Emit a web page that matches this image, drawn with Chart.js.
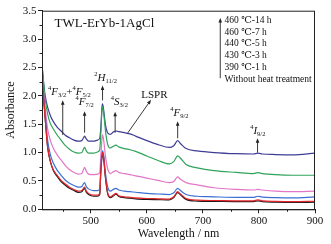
<!DOCTYPE html>
<html>
<head>
<meta charset="utf-8">
<script src="https://cdn.jsdelivr.net/npm/chart.js@4.4.1/dist/chart.umd.min.js"></script>
<style>
  html, body { margin: 0; padding: 0; background: #fff; }
  #wrap { width: 331px; height: 244px; }
</style>
</head>
<body>
<div id="wrap"><canvas id="chart" width="331" height="244"></canvas></div>
<script>
// Wavelengths (nm) shared by all spectra
const wavelengths = [413,418,423,428,433,440,447,454,462,470,478,484,487,489,492,496,505,512,516,518,
  520,521,523,526,530,535,540,545,550,560,570,580,600,620,640,648,655,660,670,690,720,760,790,798,806,830,860,900];

// Absorbance, one array per heat treatment
const noHeat = [2.30,1.68,1.10,0.84,0.69,0.58,0.49,0.43,0.37,0.33,0.30,0.31,0.35,0.37,0.30,0.26,0.23,0.23,0.26,0.67,
  0.92,0.97,0.89,0.57,0.28,0.205,0.235,0.265,0.225,0.205,0.195,0.185,0.175,0.17,0.165,0.205,0.295,0.255,0.175,0.145,0.14,0.135,0.135,0.15,0.135,0.125,0.12,0.125];
const t390_1h = [2.35,1.70,1.10,0.84,0.70,0.60,0.51,0.45,0.39,0.35,0.32,0.33,0.37,0.39,0.32,0.28,0.25,0.25,0.28,0.70,
  0.95,1.00,0.92,0.60,0.30,0.22,0.25,0.28,0.24,0.22,0.21,0.20,0.19,0.185,0.18,0.22,0.31,0.27,0.19,0.16,0.155,0.15,0.15,0.165,0.15,0.14,0.135,0.14];
const t430_3h = [2.38,1.75,1.22,0.96,0.82,0.69,0.60,0.52,0.46,0.42,0.39,0.40,0.45,0.47,0.40,0.36,0.33,0.33,0.36,0.75,
  0.98,1.03,0.95,0.65,0.40,0.32,0.35,0.37,0.34,0.32,0.31,0.30,0.28,0.27,0.26,0.29,0.37,0.33,0.26,0.23,0.22,0.21,0.21,0.23,0.215,0.205,0.20,0.22];
const t440_5h = [2.42,1.85,1.42,1.21,1.08,0.96,0.87,0.78,0.70,0.65,0.62,0.63,0.70,0.74,0.67,0.62,0.61,0.62,0.65,0.95,
  1.25,1.31,1.22,0.95,0.72,0.63,0.66,0.68,0.65,0.63,0.61,0.59,0.55,0.51,0.47,0.49,0.57,0.53,0.47,0.43,0.38,0.35,0.34,0.35,0.34,0.32,0.31,0.32];
const t460_7h = [2.57,2.00,1.68,1.51,1.42,1.31,1.22,1.13,1.06,1.01,0.99,1.00,1.06,1.09,1.03,0.99,0.99,1.01,1.05,1.35,
  1.75,1.81,1.70,1.40,1.15,1.08,1.11,1.13,1.10,1.07,1.05,1.02,0.94,0.86,0.80,0.84,0.94,0.90,0.79,0.73,0.68,0.65,0.63,0.645,0.63,0.61,0.60,0.60];
const t460_14h = [2.52,2.05,1.80,1.65,1.55,1.45,1.38,1.31,1.26,1.22,1.20,1.21,1.26,1.29,1.24,1.20,1.20,1.22,1.25,1.45,
  1.80,1.86,1.75,1.50,1.35,1.32,1.36,1.38,1.37,1.35,1.33,1.29,1.21,1.14,1.09,1.12,1.21,1.16,1.07,1.03,1.00,0.98,0.975,0.99,0.975,0.965,0.96,0.99];

const seriesNames = ['Without heat treatment', '390 ℃-1 h', '430 ℃-3 h', '440 ℃-5 h', '460 ℃-7 h', '460 ℃-14 h'];
const seriesValues = [noHeat, t390_1h, t430_3h, t440_5h, t460_7h, t460_14h];
const seriesColors = ['#1a1a1a', '#e3262b', '#3b6fd4', '#e276c6', '#2fa35a', '#3f3d96'];

// Axis ticks
const xTicks = [500, 600, 700, 800, 900];
const xMinor = [450, 550, 650, 750, 850];
const yTicks = [0, 0.5, 1.0, 1.5, 2.0, 2.5, 3.0, 3.5];
const yMinor = [0.25, 0.75, 1.25, 1.75, 2.25, 2.75, 3.25];

const serif = "'Liberation Serif', 'DejaVu Serif', serif";

// draw a spectroscopic term like 4F3/2 made of parts
function drawParts(ctx, parts, cx, cy) {
  const fonts = {
    sup: '6.5px ' + serif,
    sub: '6.5px ' + serif,
    it: 'italic 11px ' + serif,
    rm: '11px ' + serif
  };
  const dy = { sup: -4, sub: 3, it: 0, rm: 0 };
  let w = 0;
  parts.forEach(p => { ctx.font = fonts[p.k]; w += ctx.measureText(p.t).width; });
  let x = cx - w / 2;
  ctx.textBaseline = 'middle';
  ctx.textAlign = 'left';
  parts.forEach(p => {
    ctx.font = fonts[p.k];
    ctx.fillText(p.t, x, cy + dy[p.k]);
    x += ctx.measureText(p.t).width;
  });
}

function drawArrow(ctx, x1, y1, x2, y2) {
  const a = Math.atan2(y2 - y1, x2 - x1);
  const len = 4.5, half = 1.8;
  ctx.beginPath();
  ctx.moveTo(x1, y1);
  ctx.lineTo(x2 - Math.cos(a) * len * 0.6, y2 - Math.sin(a) * len * 0.6);
  ctx.stroke();
  ctx.beginPath();
  ctx.moveTo(x2, y2);
  ctx.lineTo(x2 - Math.cos(a) * len - Math.sin(a) * half, y2 - Math.sin(a) * len + Math.cos(a) * half);
  ctx.lineTo(x2 - Math.cos(a) * len + Math.sin(a) * half, y2 - Math.sin(a) * len - Math.cos(a) * half);
  ctx.closePath();
  ctx.fill();
}

// arrows [x1, y1, x2, y2] in data units
const arrows = [
  [450, 1.31, 450, 1.92],
  [489, 1.35, 489, 1.73],
  [521, 1.92, 521, 2.18],
  [543.5, 1.35, 543.5, 1.72],
  [565.6, 1.34, 607.5, 1.93],
  [655, 1.25, 655, 1.55],
  [797.5, 1.00, 797.5, 1.25],
  [731, 2.31, 731, 3.37]
];

const labels = [
  { at: [462, 2.06], parts: [{t:'4',k:'sup'},{t:'F',k:'it'},{t:'3/2',k:'sub'},{t:'+',k:'rm'},{t:'4',k:'sup'},{t:'F',k:'it'},{t:'5/2',k:'sub'}] },
  { at: [489, 1.89], parts: [{t:'4',k:'sup'},{t:'F',k:'it'},{t:'7/2',k:'sub'}] },
  { at: [526.5, 2.31], parts: [{t:'2',k:'sup'},{t:'H',k:'it'},{t:'11/2',k:'sub'}] },
  { at: [551, 1.89], parts: [{t:'4',k:'sup'},{t:'S',k:'it'},{t:'3/2',k:'sub'}] },
  { at: [613.4, 2.02], parts: [{t:'LSPR',k:'rm'}] },
  { at: [658, 1.70], parts: [{t:'4',k:'sup'},{t:'F',k:'it'},{t:'9/2',k:'sub'}] },
  { at: [798, 1.38], parts: [{t:'4',k:'sup'},{t:'I',k:'it'},{t:'9/2',k:'sub'}] }
];

const decorations = {
  id: 'decorations',
  afterDraw(chart) {
    const { ctx, chartArea: a, scales: { x, y } } = chart;
    ctx.save();
    ctx.strokeStyle = '#222';
    ctx.fillStyle = '#222';
    ctx.lineWidth = 1;
    ctx.strokeRect(a.left + 0.5, a.top + 0.5, a.right - a.left - 1, a.bottom - a.top);

    // minor ticks, pointing outward
    ctx.beginPath();
    xMinor.forEach(v => {
      const px = Math.round(x.getPixelForValue(v)) + 0.5;
      ctx.moveTo(px, a.bottom); ctx.lineTo(px, a.bottom + 2.5);
    });
    yMinor.forEach(v => {
      const py = Math.round(y.getPixelForValue(v)) + 0.5;
      ctx.moveTo(a.left, py); ctx.lineTo(a.left - 2.5, py);
    });
    ctx.stroke();

    // arrows
    ctx.lineWidth = 0.9;
    arrows.forEach(r => drawArrow(ctx, x.getPixelForValue(r[0]), y.getPixelForValue(r[1]),
      x.getPixelForValue(r[2]), y.getPixelForValue(r[3])));

    // transition labels
    ctx.fillStyle = '#111';
    labels.forEach(l => drawParts(ctx, l.parts, x.getPixelForValue(l.at[0]), y.getPixelForValue(l.at[1])));

    // sample name
    ctx.font = '13px ' + serif;
    ctx.textAlign = 'left';
    ctx.textBaseline = 'middle';
    ctx.fillText('TWL-ErYb-1AgCl', x.getPixelForValue(435.5), y.getPixelForValue(3.28));

    // series list beside the vertical arrow, top entry first
    ctx.font = '9.5px ' + serif;
    const lx = x.getPixelForValue(738.6);
    seriesNames.slice().reverse().forEach((name, i) => {
      ctx.fillText(name, lx, y.getPixelForValue(3.33 - i * 0.208));
    });
    ctx.restore();
  }
};

const ctx = document.getElementById('chart').getContext('2d');
new Chart(ctx, {
  type: 'line',
  data: {
    datasets: seriesValues.map((vals, i) => ({
      label: seriesNames[i],
      data: wavelengths.map((w, j) => ({ x: w, y: vals[j] })),
      borderColor: seriesColors[i],
      borderWidth: 1.2,
      pointRadius: 0,
      fill: false,
      order: i === 0 ? 1 : 0,
      cubicInterpolationMode: 'monotone'
    }))
  },
  options: {
    responsive: false,
    devicePixelRatio: 1,
    animation: false,
    layout: { padding: { left: 0, right: 16, top: 10.7, bottom: 0 } },
    plugins: { legend: { display: false }, tooltip: { enabled: false } },
    scales: {
      x: {
        type: 'linear',
        min: 413,
        max: 900,
        afterBuildTicks: s => { s.ticks = xTicks.map(v => ({ value: v })); },
        afterFit: s => { s.height = 34.7; },
        ticks: { color: '#111', font: { family: serif, size: 11 }, padding: 1, maxRotation: 0, autoSkip: false },
        grid: { drawOnChartArea: false, tickLength: 4, tickColor: '#222' },
        border: { color: '#222', width: 1 },
        title: { display: true, text: 'Wavelength / nm', color: '#111', font: { family: serif, size: 12 }, padding: { top: 0, bottom: 3 } }
      },
      y: {
        min: 0,
        max: 3.5,
        afterBuildTicks: s => { s.ticks = yTicks.map(v => ({ value: v })); },
        afterFit: s => { s.width = 42; },
        ticks: { color: '#111', font: { family: serif, size: 11 }, padding: 1.5, callback: v => v.toFixed(1) },
        grid: { drawOnChartArea: false, tickLength: 4, tickColor: '#222' },
        border: { color: '#222', width: 1 },
        title: { display: true, text: 'Absorbance', color: '#111', font: { family: serif, size: 12 }, padding: { top: 4, bottom: 0 } }
      }
    }
  },
  plugins: [decorations]
});
</script>
</body>
</html>
